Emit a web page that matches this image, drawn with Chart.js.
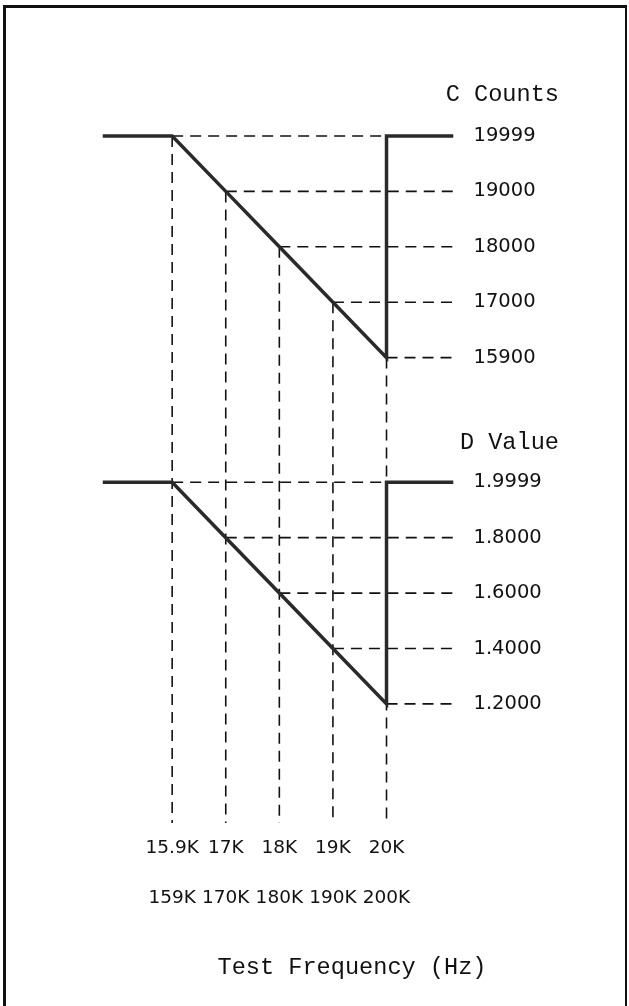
<!DOCTYPE html>
<html>
<head>
<meta charset="utf-8">
<title>C Counts / D Value vs Test Frequency</title>
<script src="https://cdn.jsdelivr.net/npm/chart.js@4.4.1/dist/chart.umd.min.js"></script>
<style>
  html, body { margin: 0; padding: 0; background: #fff; }
  #wrap { position: relative; width: 629px; height: 1006px; overflow: hidden; }
  #frame {
    position: absolute; left: 3px; top: 5px; right: 2px; bottom: -10px;
    border: 3px solid #111; border-right-width: 2px; pointer-events: none;
  }
  canvas { display: block; }
</style>
</head>
<body>
<div id="wrap">
  <canvas id="chart" width="629" height="1006"></canvas>
  <div id="frame"></div>
</div>
<script>
// test frequencies, spaced evenly along the bottom (low and high range)
const freqLabels = ['15.9K', '17K', '18K', '19K', '20K'];
const freqLabelsHigh = ['159K', '170K', '180K', '190K', '200K'];

// display levels marked on the right of each panel
const countTicks = ['19999', '19000', '18000', '17000', '15900'];
const dTicks = ['1.9999', '1.8000', '1.6000', '1.4000', '1.2000'];

// reading at each test frequency
const countReadings = [19999, 19000, 18000, 17000, 15900];
const dReadings = [1.9999, 1.8, 1.6, 1.4, 1.2];

// full scale shown outside the range
const countOver = 19999;
const dOver = 1.9999;

// axis ranges (x in frequency steps, y in rows)
const X_MIN = -1.3, X_MAX = 5.25;
const D_ROW0 = 6.25; // first row of the D panel
const Y_MIN = -0.5, Y_MAX = 12.4;

const cRow = v => countTicks.indexOf(String(v));
const dRow = v => D_ROW0 + dTicks.indexOf(v.toFixed(4));

const FONT = 'DejaVu Sans';
const INK = '#111';

// flat at full scale, falls across the range, jumps back at the top end
function readingLine(readings, over, row) {
  const last = readings.length - 1;
  return [
    { x: X_MIN, y: row(over) },
    ...readings.map((v, i) => ({ x: i, y: row(v) })),
    { x: last, y: row(over) },
    { x: X_MAX, y: row(over) }
  ];
}

// dashed lines from each reading across to the scale, and down to the frequency
function dropLines(readings, row, down) {
  const pts = [];
  readings.forEach((v, i) => {
    pts.push({ x: i, y: row(v) }, { x: X_MAX, y: row(v) }, { x: null, y: null });
    if (down) pts.push({ x: i, y: row(v) }, { x: i, y: Y_MAX }, { x: null, y: null });
  });
  return pts;
}

const solid = { borderColor: '#2a2a2a', borderWidth: 3.5, pointRadius: 0, tension: 0, borderJoinStyle: 'miter' };
const dashed = { borderColor: INK, borderWidth: 1.6, borderDash: [11, 7], pointRadius: 0, tension: 0 };

// panel titles and the frequency caption
const captions = {
  id: 'captions',
  afterDraw(chart) {
    const ctx = chart.ctx;
    ctx.save();
    ctx.font = '23.6px "Liberation Mono"';
    ctx.fillStyle = INK;
    ctx.textBaseline = 'middle';
    ctx.textAlign = 'right';
    ctx.fillText('C Counts', 559, 95);
    ctx.fillText('D Value', 559, 443);
    ctx.textAlign = 'center';
    ctx.fillText('Test Frequency (Hz)', 352, 968);
    ctx.restore();
  }
};

new Chart(document.getElementById('chart'), {
  type: 'line',
  data: {
    datasets: [
      { label: 'C Counts', data: readingLine(countReadings, countOver, cRow), ...solid },
      { label: 'D Value', data: readingLine(dReadings, dOver, dRow), ...solid },
      { label: 'C drop', data: dropLines(countReadings, cRow, true), ...dashed },
      { label: 'D drop', data: dropLines(dReadings, dRow, false), ...dashed }
    ]
  },
  options: {
    responsive: false,
    animation: false,
    spanGaps: false,
    layout: { padding: { left: 102.5, top: 108.3, right: 0, bottom: 0 } },
    plugins: { legend: { display: false }, tooltip: { enabled: false } },
    scales: {
      x: {
        type: 'linear', min: X_MIN, max: X_MAX,
        grid: { display: false, drawTicks: false },
        border: { display: false },
        afterBuildTicks: s => { s.ticks = freqLabels.map((_, i) => ({ value: i })); },
        afterFit: s => { s.height = 183; },
        ticks: {
          padding: 0, maxRotation: 0, autoSkip: false, color: INK,
          font: { family: FONT, size: 18.5, lineHeight: '50px' },
          callback: v => [freqLabels[v], freqLabelsHigh[v]]
        }
      },
      y: {
        type: 'linear', position: 'right', reverse: true, min: Y_MIN, max: Y_MAX,
        grid: { display: false, drawTicks: false },
        border: { display: false },
        afterBuildTicks: s => {
          s.ticks = [
            ...countTicks.map((_, i) => ({ value: i })),
            ...dTicks.map((_, i) => ({ value: D_ROW0 + i }))
          ];
        },
        afterFit: s => { s.width = 629 - 453.5; },
        ticks: {
          padding: 20, autoSkip: false, color: INK,
          font: { family: FONT, size: 19.5 },
          callback: v => v < D_ROW0 ? countTicks[v] : dTicks[Math.round(v - D_ROW0)]
        }
      }
    }
  },
  plugins: [captions]
});
</script>
</body>
</html>
